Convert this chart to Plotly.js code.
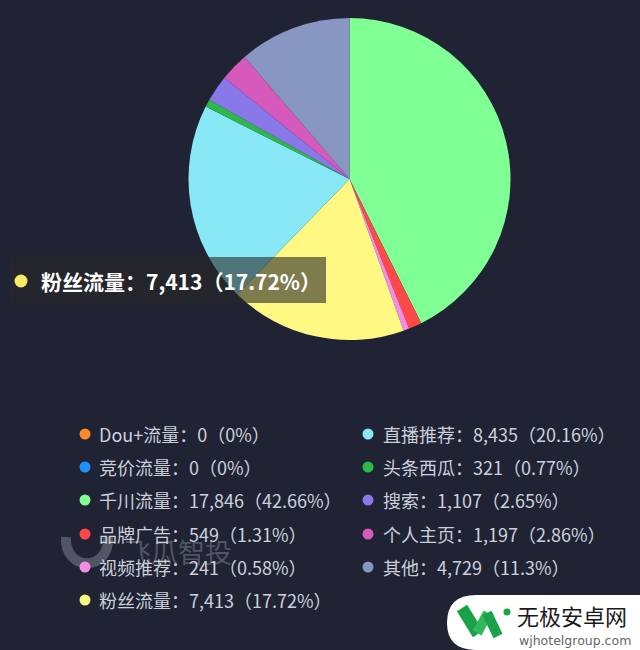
<!DOCTYPE html>
<html>
<head>
<meta charset="utf-8">
<script src="https://cdn.plot.ly/plotly-3.0.1.min.js"></script>
<style>
html,body{margin:0;padding:0;background:#1f2334;}
#chart{width:640px;height:650px;}
</style>
</head>
<body>
<div id="chart"></div>
<script>
const labels = ["Dou+流量","竞价流量","千川流量","品牌广告","视频推荐","粉丝流量","直播推荐","头条西瓜","搜索","个人主页","其他"];
const values = [0,0,17846,549,241,7413,8435,321,1107,1197,4729];
const percents = ["0%","0%","42.66%","1.31%","0.58%","17.72%","20.16%","0.77%","2.65%","2.86%","11.3%"];
const colors = ["#ff8a2b","#1e90ff","#7fff94","#ff4848","#f58ce6","#fff882","#88e8f5","#2db84a","#8878e8","#d659bc","#8896c2"];
const highlighted = "粉丝流量";

const W = 640, H = 650;
const px = x => x / W;
const py = y => 1 - y / H;
const fmt = v => v.toLocaleString("en-US");

const FONT = "'Noto Sans CJK SC','Noto Sans',sans-serif";

const pie = {
  type: "pie",
  labels: labels,
  values: values,
  marker: {colors: colors, line: {width: 0}},
  sort: false,
  direction: "clockwise",
  rotation: 0,
  textinfo: "none",
  hoverinfo: "none",
  showlegend: false,
  domain: {x: [px(349.5 - 161), px(349.5 + 161)], y: [py(340), py(18)]}
};

const annotations = [];
const shapes = [];

// watermark 飞瓜智投 (drawn first, beneath legend text)
annotations.push({xref: "paper", yref: "paper", x: px(178), y: py(551), xanchor: "center", yanchor: "middle",
  showarrow: false, text: "飞瓜智投", font: {family: FONT, size: 27, color: "rgba(215,215,225,0.28)"}});
shapes.push({type: "path", xref: "paper", yref: "paper",
  path: `M ${px(66)} ${py(537)} C ${px(64)} ${py(572)}, ${px(110)} ${py(572)}, ${px(108)} ${py(537)}`,
  line: {color: "rgba(215,215,225,0.28)", width: 10}, layer: "above"});

// legend: two columns
const col1 = {dot: 85, text: 97, rows: [434, 467, 500, 534, 567, 600]};
const col2 = {dot: 368, text: 381, rows: [434, 467, 500, 534, 567]};
labels.forEach((lab, i) => {
  const col = i < 6 ? col1 : col2;
  const r = i < 6 ? i : i - 6;
  const y = col.rows[r];
  shapes.push({type: "circle", xref: "paper", yref: "paper", xsizemode: "pixel", ysizemode: "pixel",
    xanchor: px(col.dot), yanchor: py(y), x0: -5.5, x1: 5.5, y0: -5.5, y1: 5.5,
    fillcolor: colors[i], line: {width: 0}, layer: "above"});
  annotations.push({xref: "paper", yref: "paper", x: px(col.text), y: py(y), xanchor: "left", yanchor: "middle",
    showarrow: false, text: lab + "：" + fmt(values[i]) + "（" + percents[i] + "）",
    font: {family: FONT, size: 18, color: "#cdd0db"}});
});

// tooltip
const hi = labels.indexOf(highlighted);
shapes.push({type: "rect", xref: "paper", yref: "paper", x0: px(10), x1: px(326), y0: py(303), y1: py(257),
  fillcolor: "rgba(40,40,40,0.6)", line: {width: 0}, layer: "above"});
shapes.push({type: "circle", xref: "paper", yref: "paper", xsizemode: "pixel", ysizemode: "pixel",
  xanchor: px(21), yanchor: py(281), x0: -6.5, x1: 6.5, y0: -6.5, y1: 6.5,
  fillcolor: "#fbe96a", line: {width: 0}, layer: "above"});
annotations.push({xref: "paper", yref: "paper", x: px(39), y: py(281), xanchor: "left", yanchor: "middle",
  showarrow: false, text: "<b>" + labels[hi] + "：" + fmt(values[hi]) + "（" + percents[hi] + "）</b>",
  font: {family: FONT, size: 21, color: "#ffffff"}});

// site watermark box
shapes.push({type: "path", xref: "paper", yref: "paper",
  path: `M ${px(640)} ${py(595)} L ${px(476)} ${py(595)} Q ${px(447)} ${py(595)} ${px(447)} ${py(623)} Q ${px(447)} ${py(650)} ${px(476)} ${py(650)} L ${px(640)} ${py(650)} Z`,
  fillcolor: "#ffffff", line: {width: 0}, layer: "above"});
shapes.push({type: "line", xref: "paper", yref: "paper", x0: px(462), y0: py(608), x1: px(478), y1: py(634),
  line: {color: "#1aa24a", width: 12}, layer: "above"});
shapes.push({type: "line", xref: "paper", yref: "paper", x0: px(477), y0: py(633), x1: px(488), y1: py(613),
  line: {color: "#33b85a", width: 10}, layer: "above"});
shapes.push({type: "line", xref: "paper", yref: "paper", x0: px(487), y0: py(613), x1: px(498), y1: py(636),
  line: {color: "#1aa24a", width: 10}, layer: "above"});
shapes.push({type: "circle", xref: "paper", yref: "paper", xsizemode: "pixel", ysizemode: "pixel",
  xanchor: px(507), yanchor: py(612), x0: -3.5, x1: 3.5, y0: -3.5, y1: 3.5,
  fillcolor: "#1aa24a", line: {width: 0}, layer: "above"});
annotations.push({xref: "paper", yref: "paper", x: px(516), y: py(615), xanchor: "left", yanchor: "middle",
  showarrow: false, text: "无极安卓网", font: {family: FONT, size: 22, color: "#1a1a1a"}, borderpad: 0});
annotations.push({xref: "paper", yref: "paper", x: px(518), y: py(640), xanchor: "left", yanchor: "middle",
  showarrow: false, text: "wjhotelgroup.com", font: {family: "'DejaVu Sans',sans-serif", size: 12.5, color: "#666666"}, borderpad: 0});

const layout = {
  width: W, height: H,
  margin: {l: 0, r: 0, t: 0, b: 0},
  paper_bgcolor: "#1f2334",
  plot_bgcolor: "#1f2334",
  showlegend: false,
  shapes: shapes,
  annotations: annotations,
  font: {family: FONT}
};

Plotly.newPlot("chart", [pie], layout, {displayModeBar: false, staticPlot: true});
</script>
</body>
</html>
